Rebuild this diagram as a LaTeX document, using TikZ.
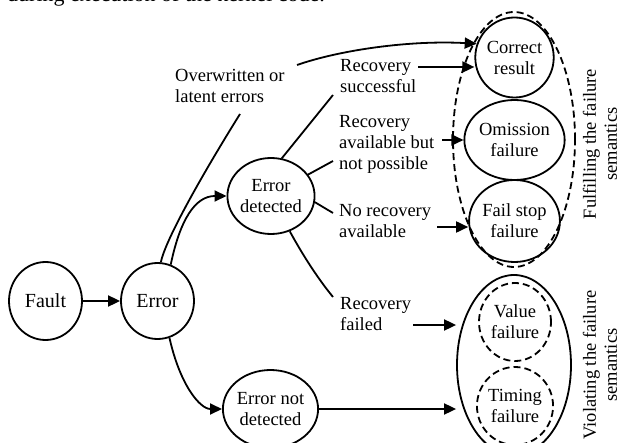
\documentclass[tikz,border=0pt]{standalone}
\usepackage{fontspec}
\setmainfont{Liberation Serif}
\usetikzlibrary{shapes.geometric,arrows.meta}
\newcommand\fsz{\fontsize{18.5}{21}\selectfont}
\newcommand\fbig{\fontsize{20}{22}\selectfont}
\tikzset{
  st/.style={draw, line width=1.8pt, ellipse, inner sep=0pt, align=center, font=\fsz},
  dsh/.style={dash pattern=on 7pt off 4pt},
  ln/.style={line width=1.8pt},
  arr/.style={line width=1.8pt, -{Triangle[length=12pt,width=11pt]}},
  lab/.style={align=left, inner sep=0pt, font=\fsz, anchor=base west},
  rot/.style={align=center, inner sep=0pt, font=\fsz, rotate=90},
}
\begin{document}
\begin{tikzpicture}[x=1pt,y=-1pt]
\useasboundingbox (0,0) rectangle (620,443);
\clip (0,0) rectangle (620,443);
% clipped line of the surrounding text
\node[anchor=base west, inner sep=0pt, font=\fontsize{22}{24}\selectfont] (top) at (7,1.5) {during execution of the kernel code.};
% state nodes
\node[st, font=\fbig, minimum width=73pt, minimum height=78pt] (fault) at (45.5,301) {Fault};
\node[st, font=\fbig, minimum width=73pt, minimum height=76pt] (err) at (157.5,301) {Error};
\node[st, minimum width=72pt, minimum height=76pt] (ed) at (271,196) {Error\\detected};
\node[st, minimum width=72pt, minimum height=78pt] (end) at (270.5,409) {Error not\\detected};
\node[st, minimum width=73pt, minimum height=80pt] (cr) at (514.5,57.5) {Correct\\result};
\node[st, minimum width=75pt, minimum height=80pt] (om) at (514.5,140) {Omission\\failure};
\node[st, minimum width=73pt, minimum height=82pt] (fs) at (514.5,221) {Fail stop\\failure};
\node[st, dsh, minimum width=122pt, minimum height=255pt] (ful) at (514,139.5) {};
\node[st, minimum width=114pt, minimum height=180pt] (viol) at (514,365) {};
\node[st, dsh, minimum width=72pt, minimum height=78pt] (val) at (515,322) {Value\\failure};
\node[st, dsh, minimum width=72pt, minimum height=78pt] (tim) at (515,406) {Timing\\failure};
% side labels
\node[rot] (fultxt) at (600,144) {Fulfilling the failure\\semantics};
\node[rot] (violtxt) at (600,365) {Violating the failure\\semantics};
% edge labels (anchored at the baseline of their last line)
\node[lab] (lo) at (175,103) {Overwritten or\\latent errors};
\node[lab] (ls) at (340,93) {Recovery\\successful};
\node[lab] (la) at (339,170) {Recovery\\available but\\not possible};
\node[lab] (ln) at (339,238) {No recovery\\available};
\node[lab] (lf) at (340,330) {Recovery\\failed};
% attachment points of the labels
\coordinate (o1) at (240,114);
\coordinate (o2) at (297,65);
\coordinate (s1) at (333,95);
\coordinate (s2) at (418,67);
\coordinate (a1) at (333,161);
\coordinate (a2) at (442,140);
\coordinate (n1) at (333,213);
\coordinate (n2) at (437,227);
\coordinate (f1) at (333,297);
\coordinate (f2) at (413,325);
% connectors
\draw[arr] (fault.east) -- (err.west);
\draw[ln] (err.85) .. controls (165,240) and (205,170) .. (o1);
\draw[arr] (o2) .. controls (340,50) and (410,40) .. (cr.160);
\draw[arr] (err.70) .. controls (180,220) and (195,196) .. (ed.west);
\draw[arr] (err.-72) .. controls (180,385) and (200,409) .. (end.west);
\draw[ln] (ed.74) -- (s1);
\draw[arr] (s2) -- (s2 -| cr.west);
\draw[ln] (ed.30) -- (a1);
\draw[arr] (a2) -- (om.west);
\draw[ln] (ed.-8) -- (n1);
\draw[arr] (n2) -- (n2 -| fs.west);
\draw[ln] (ed.-62) .. controls (300,250) and (315,275) .. (f1);
\draw[arr] (f2) -- (f2 -| viol.west);
\draw[arr] (end.east) -- (end.east -| viol.west);
\end{tikzpicture}
\end{document}
